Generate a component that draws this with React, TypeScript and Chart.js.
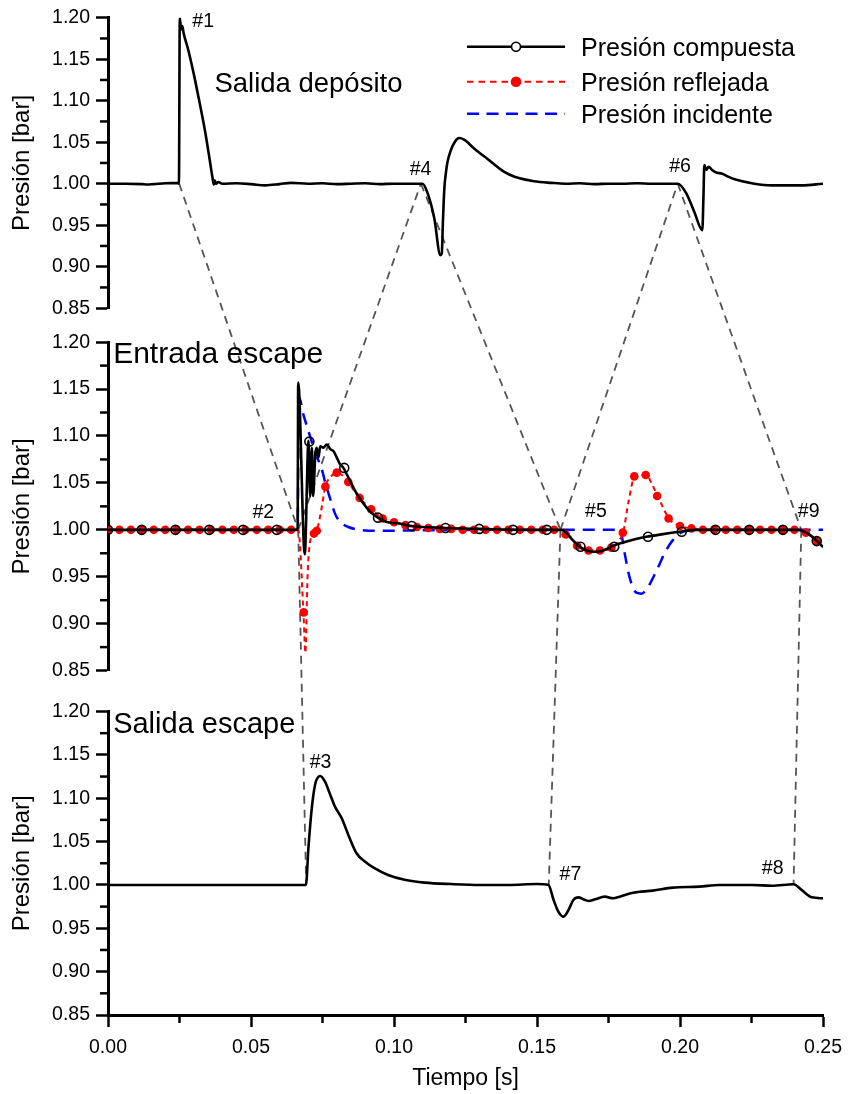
import { useEffect, useRef } from "react";
import { Chart, registerables } from "chart.js";

Chart.register(...registerables);

const FONT = "'Liberation Sans', Arial, Helvetica, sans-serif";

// ---------- axes ----------
const X_TICKS = [0, 0.05, 0.1, 0.15, 0.2, 0.25];
const X_MINOR = [0.025, 0.075, 0.125, 0.175, 0.225];
const Y_TICKS = [0.85, 0.9, 0.95, 1.0, 1.05, 1.1, 1.15, 1.2];
const Y_MINOR = [0.875, 0.925, 0.975, 1.025, 1.075, 1.125, 1.175];

const SERIES_NAMES = ["Presión compuesta", "Presión reflejada", "Presión incidente"];
const PANEL_NAMES = ["Salida depósito", "Entrada escape", "Salida escape"];

// ---------- top panel: Salida depósito ----------
const TOP_T = [0, 0.006, 0.012, 0.0135, 0.016, 0.02, 0.0245, 0.0248, 0.0251, 0.0256, 0.026, 0.0264, 0.028, 0.03, 0.032, 0.034, 0.0355, 0.0365, 0.037, 0.0373, 0.0378, 0.0385, 0.04, 0.045, 0.05, 0.055, 0.06, 0.064, 0.07, 0.075, 0.08, 0.085, 0.09, 0.095, 0.1, 0.105, 0.11, 0.1118, 0.1141, 0.1162, 0.1167, 0.1171, 0.1176, 0.1182, 0.1187, 0.1199, 0.1213, 0.1228, 0.1245, 0.128, 0.1326, 0.1384, 0.1424, 0.1489, 0.155, 0.16, 0.165, 0.17, 0.175, 0.18, 0.185, 0.19, 0.1992, 0.2021, 0.205, 0.2078, 0.2082, 0.2085, 0.2092, 0.21, 0.2112, 0.2125, 0.2148, 0.2168, 0.2194, 0.226, 0.232, 0.238, 0.2426, 0.25];
const TOP_P = [1.0, 1.0, 0.9995, 0.999, 0.9995, 1.0005, 1.001, 1.0, 1.2, 1.186, 1.19, 1.182, 1.162, 1.132, 1.098, 1.062, 1.03, 1.008, 0.999, 1.004, 1.0, 1.002, 1.0, 1.0005, 0.9995, 0.998, 0.9995, 1.001, 1.0, 1.0005, 0.9995, 1.0, 1.0005, 0.9995, 1.0, 1.0, 1.0, 0.988, 0.958, 0.914, 0.916, 0.954, 0.994, 1.0145, 1.026, 1.0406, 1.0506, 1.055, 1.053, 1.0425, 1.03, 1.0145, 1.008, 1.003, 1.001, 1.0, 1.0005, 0.9995, 1.0, 1.0, 1.0005, 1.0, 1.0, 0.989, 0.966, 0.944, 0.985, 1.0225, 1.0165, 1.0205, 1.0165, 1.0136, 1.012, 1.0085, 1.005, 1.0, 0.998, 0.998, 0.998, 1.0];

// ---------- middle panel: Entrada escape ----------
const MID_T = [0, 0.03, 0.06, 0.0663, 0.0665, 0.0688, 0.0701, 0.0707, 0.0713, 0.0717, 0.0725, 0.073, 0.0736, 0.0742, 0.0753, 0.0765, 0.0777, 0.0788, 0.08, 0.0811, 0.0823, 0.084, 0.0864, 0.0886, 0.0921, 0.0944, 0.0979, 0.1014, 0.1062, 0.118, 0.13, 0.145, 0.1587, 0.1616, 0.1645, 0.1674, 0.1703, 0.1732, 0.1766, 0.1801, 0.1842, 0.1882, 0.194, 0.1998, 0.2056, 0.2113, 0.23, 0.2414, 0.2449, 0.2472, 0.25];
const MID_P = [1.0, 1.0, 1.0, 1.0, 1.157, 0.974, 1.095, 1.036, 1.0875, 1.036, 1.081, 1.0875, 1.077, 1.089, 1.0875, 1.091, 1.086, 1.084, 1.077, 1.07, 1.066, 1.056, 1.0415, 1.031, 1.018, 1.013, 1.008, 1.007, 1.004, 1.002, 1.001, 1.0, 1.0, 0.992, 0.983, 0.978, 0.9766, 0.978, 0.983, 0.9865, 0.99, 0.9926, 0.9954, 0.9979, 1.0, 1.0, 1.0, 1.0, 0.9954, 0.99, 0.9815];

const RED_T = [0, 0.06, 0.0665, 0.0684, 0.069, 0.0698, 0.0707, 0.072, 0.073, 0.0745, 0.076, 0.078, 0.08, 0.082, 0.084, 0.086, 0.088, 0.092, 0.096, 0.1, 0.104, 0.108, 0.112, 0.12, 0.13, 0.156, 0.1587, 0.1616, 0.1645, 0.168, 0.172, 0.1764, 0.179, 0.1801, 0.182, 0.1842, 0.1882, 0.19, 0.1922, 0.1963, 0.2003, 0.2044, 0.208, 0.2414, 0.2449, 0.2484, 0.25];
const RED_P = [1.0, 1.0, 1.0, 0.907, 0.869, 0.953, 0.988, 0.996, 0.999, 1.02, 1.046, 1.057, 1.061, 1.058, 1.051, 1.042, 1.034, 1.022, 1.012, 1.008, 1.005, 1.003, 1.002, 1.001, 1.0, 1.0, 1.0, 0.993, 0.982, 0.978, 0.978, 0.981, 0.99, 0.997, 1.03, 1.057, 1.0585, 1.05, 1.036, 1.0114, 1.004, 1.0015, 1.0, 1.0, 0.996, 0.988, 0.984];

const BLUE_T = [0, 0.0663, 0.0667, 0.0684, 0.0701, 0.0725, 0.0748, 0.076, 0.0777, 0.0794, 0.081, 0.084, 0.088, 0.095, 0.11, 0.13, 0.179, 0.1807, 0.1824, 0.1847, 0.1865, 0.1888, 0.1917, 0.1951, 0.1975, 0.2003, 0.2044, 0.25];
const BLUE_P = [1.0, 1.0, 1.142, 1.122, 1.105, 1.082, 1.064, 1.05, 1.033, 1.017, 1.009, 1.003, 1.0, 0.999, 0.9995, 1.0, 1.0, 0.974, 0.949, 0.933, 0.932, 0.939, 0.956, 0.978, 0.989, 0.997, 1.0, 1.0];

// symbol positions
const BLACK_MK_T = [0, 0.0118, 0.0236, 0.0354, 0.0472, 0.059, 0.0704, 0.0826, 0.0944, 0.1062, 0.118, 0.1298, 0.1416, 0.1534, 0.1652, 0.177, 0.1888, 0.2006, 0.2124, 0.2242, 0.236, 0.2478];
const BLACK_MK_P = [1.0, 1.0, 1.0, 1.0, 1.0, 1.0, 1.094, 1.066, 1.013, 1.004, 1.002, 1.001, 1.0, 1.0, 0.982, 0.982, 0.9926, 0.998, 1.0, 1.0, 1.0, 0.988];

const RED_MK_T = [0, 0.004, 0.008, 0.012, 0.016, 0.02, 0.024, 0.028, 0.032, 0.036, 0.04, 0.044, 0.048, 0.052, 0.056, 0.06, 0.064, 0.0684, 0.072, 0.073, 0.076, 0.08, 0.084, 0.088, 0.092, 0.096, 0.1, 0.104, 0.108, 0.112, 0.116, 0.12, 0.124, 0.128, 0.132, 0.136, 0.14, 0.144, 0.148, 0.152, 0.156, 0.16, 0.164, 0.168, 0.172, 0.176, 0.18, 0.184, 0.188, 0.192, 0.196, 0.2, 0.204, 0.208, 0.212, 0.216, 0.22, 0.224, 0.228, 0.232, 0.236, 0.24, 0.244, 0.248];
const RED_MK_P = [1.0, 1.0, 1.0, 1.0, 1.0, 1.0, 1.0, 1.0, 1.0, 1.0, 1.0, 1.0, 1.0, 1.0, 1.0, 1.0, 1.0, 0.912, 0.996, 0.999, 1.046, 1.061, 1.051, 1.034, 1.022, 1.012, 1.008, 1.005, 1.003, 1.002, 1.001, 1.001, 1.0, 1.0, 1.0, 1.0, 1.0, 1.0, 1.0, 1.0, 1.0, 0.995, 0.983, 0.978, 0.978, 0.981, 0.997, 1.057, 1.0585, 1.036, 1.012, 1.004, 1.0015, 1.0, 1.0, 1.0, 1.0, 1.0, 1.0, 1.0, 1.0, 1.0, 0.997, 0.988];

// ---------- bottom panel: Salida escape ----------
const BOT_T = [0, 0.03, 0.06, 0.0692, 0.0701, 0.0713, 0.0725, 0.0742, 0.0759, 0.0777, 0.0794, 0.0817, 0.084, 0.0869, 0.0898, 0.0933, 0.0979, 0.1037, 0.1107, 0.12, 0.13, 0.14, 0.15, 0.154, 0.1558, 0.1575, 0.1593, 0.161, 0.1627, 0.1645, 0.1662, 0.168, 0.1703, 0.1737, 0.1766, 0.1789, 0.1836, 0.1905, 0.1975, 0.2067, 0.2137, 0.2252, 0.2322, 0.2397, 0.2426, 0.2461, 0.25];
const BOT_P = [1.0, 1.0, 1.0, 1.0, 1.044, 1.09, 1.117, 1.1257, 1.119, 1.104, 1.09, 1.077, 1.058, 1.0365, 1.027, 1.019, 1.0115, 1.006, 1.0027, 1.001, 1.0, 1.0, 1.001, 1.0, 0.9827, 0.969, 0.9634, 0.971, 0.9827, 0.9857, 0.9834, 0.9815, 0.9834, 0.9865, 0.9846, 0.9865, 0.991, 0.9934, 0.9969, 0.998, 1.0, 1.0, 0.999, 1.0008, 0.994, 0.9857, 0.9846];

// wave-propagation connectors: [t1, panel1, p1, t2, panel2, p2]
const CONNECTORS: [number, string, number, number, string, number][] = [
  [0.0249, "yTop", 1.0, 0.0665, "yMid", 1.0],
  [0.0665, "yMid", 1.0, 0.1094, "yTop", 1.0],
  [0.1094, "yTop", 1.0, 0.1582, "yMid", 1.0],
  [0.1582, "yMid", 1.0, 0.1992, "yTop", 1.0],
  [0.1992, "yTop", 1.0, 0.2424, "yMid", 1.0],
  [0.0665, "yMid", 1.0, 0.0693, "yBot", 1.0],
  [0.1582, "yMid", 1.0, 0.1541, "yBot", 1.0],
  [0.2424, "yMid", 1.0, 0.2397, "yBot", 1.0],
];

// event markers (anchor in data coordinates, text baseline)
const EVENT_LABELS = ["#1", "#4", "#6", "#2", "#5", "#9", "#3", "#7", "#8"];
const EVENT_AXIS = ["yTop", "yTop", "yTop", "yMid", "yMid", "yMid", "yBot", "yBot", "yBot"];
const EVENT_T = [0.0295, 0.1055, 0.1962, 0.0505, 0.1668, 0.2412, 0.0705, 0.1579, 0.2286];
const EVENT_P = [1.1886, 1.0105, 1.0136, 1.0131, 1.0138, 1.0138, 1.1346, 1.0058, 1.0127];
const PANEL_AXIS = ["yTop", "yMid", "yBot"];
const PANEL_T = [0.0372, 0.0018, 0.0018];
const PANEL_P = [1.11, 1.178, 1.1753];

const zip = (xs: number[], ys: number[]) => xs.map((x, i) => ({ x, y: ys[i] }));

const overlayPlugin = {
  id: "overlay",
  beforeDatasetsDraw(chart: any) {
    const { ctx, scales } = chart;
    ctx.save();
    ctx.strokeStyle = "#555555";
    ctx.lineWidth = 1.8;
    ctx.setLineDash([8, 6]);
    for (const [x1, a1, y1, x2, a2, y2] of CONNECTORS) {
      ctx.beginPath();
      ctx.moveTo(scales.x.getPixelForValue(x1), scales[a1].getPixelForValue(y1));
      ctx.lineTo(scales.x.getPixelForValue(x2), scales[a2].getPixelForValue(y2));
      ctx.stroke();
    }
    ctx.restore();
  },
  afterDraw(chart: any) {
    const { ctx, scales } = chart;
    const sx = scales.x;
    ctx.save();
    ctx.setLineDash([]);
    ctx.strokeStyle = "#000";
    ctx.lineWidth = 2.5;
    for (const id of PANEL_AXIS) {
      const s = scales[id];
      for (const v of Y_MINOR) {
        const py = s.getPixelForValue(v);
        ctx.beginPath();
        ctx.moveTo(s.right - 8, py);
        ctx.lineTo(s.right, py);
        ctx.stroke();
      }
    }
    for (const v of X_MINOR) {
      const px = sx.getPixelForValue(v);
      ctx.beginPath();
      ctx.moveTo(px, sx.top);
      ctx.lineTo(px, sx.top + 8);
      ctx.stroke();
    }

    ctx.fillStyle = "#000";
    ctx.textAlign = "left";
    ctx.textBaseline = "alphabetic";
    ctx.font = `19.5px ${FONT}`;
    EVENT_LABELS.forEach((t, i) => {
      ctx.fillText(t, sx.getPixelForValue(EVENT_T[i]), scales[EVENT_AXIS[i]].getPixelForValue(EVENT_P[i]));
    });
    const panelSizes = [27.5, 30, 29];
    PANEL_NAMES.forEach((t, i) => {
      ctx.font = `${panelSizes[i]}px ${FONT}`;
      ctx.fillText(t, sx.getPixelForValue(PANEL_T[i]), scales[PANEL_AXIS[i]].getPixelForValue(PANEL_P[i]));
    });

    // legend
    const area = chart.chartArea;
    const lx1 = area.right - 356;
    const lx2 = area.right - 258;
    const lxm = (lx1 + lx2) / 2;
    const tx = area.right - 242;
    const rows = [area.top + 29, area.top + 64, area.top + 96];
    ctx.font = `25px ${FONT}`;
    // compuesta
    ctx.strokeStyle = "#000";
    ctx.lineWidth = 2.6;
    ctx.beginPath();
    ctx.moveTo(lx1, rows[0]);
    ctx.lineTo(lx2, rows[0]);
    ctx.stroke();
    ctx.beginPath();
    ctx.arc(lxm, rows[0], 4.5, 0, Math.PI * 2);
    ctx.fillStyle = "#fff";
    ctx.fill();
    ctx.lineWidth = 1.6;
    ctx.stroke();
    // reflejada
    ctx.strokeStyle = "#ff0000";
    ctx.lineWidth = 2;
    ctx.setLineDash([6.5, 5]);
    ctx.beginPath();
    ctx.moveTo(lx1, rows[1]);
    ctx.lineTo(lx2, rows[1]);
    ctx.stroke();
    ctx.setLineDash([]);
    ctx.beginPath();
    ctx.arc(lxm, rows[1], 5.3, 0, Math.PI * 2);
    ctx.fillStyle = "#ff0000";
    ctx.fill();
    // incidente
    ctx.strokeStyle = "#0000ff";
    ctx.lineWidth = 2.5;
    ctx.setLineDash([12, 7.5]);
    ctx.beginPath();
    ctx.moveTo(lx1, rows[2]);
    ctx.lineTo(lx2, rows[2]);
    ctx.stroke();
    ctx.setLineDash([]);
    ctx.fillStyle = "#000";
    SERIES_NAMES.forEach((t, i) => ctx.fillText(t, tx, rows[i] + 9));
    ctx.restore();
  },
};

function yAxis(weight: number, stackWeight: number) {
  return {
    type: "linear",
    position: "left",
    stack: "panels",
    stackWeight,
    weight,
    min: 0.85,
    max: 1.2,
    afterBuildTicks: (s: any) => {
      s.ticks = Y_TICKS.map((v) => ({ value: v }));
    },
    afterFit: (s: any) => {
      s.width = 108;
    },
    ticks: {
      autoSkip: false,
      padding: 6,
      color: "#000",
      font: { size: 19.5, family: FONT },
      callback: (v: any) => Number(v).toFixed(2),
    },
    grid: { drawOnChartArea: false, drawTicks: true, tickLength: 12, tickWidth: 2.5, tickColor: "#000" },
    border: { display: true, width: 3, color: "#000" },
    title: {
      display: true,
      text: "Presión [bar]",
      color: "#000",
      font: { size: 24, family: FONT },
      padding: { top: 8, bottom: 0 },
    },
  };
}

function gapAxis(weight: number, stackWeight: number) {
  return {
    type: "linear",
    position: "left",
    stack: "panels",
    stackWeight,
    weight,
    display: false,
    min: 0,
    max: 1,
  };
}

export default function App() {
  const ref = useRef<HTMLCanvasElement>(null);
  useEffect(() => {
    const canvas = ref.current;
    if (!canvas) return;
    Chart.defaults.font.family = FONT;
    Chart.defaults.color = "#000";
    const lineBase = { pointRadius: 0, pointHoverRadius: 0, fill: false, borderJoinStyle: "round", cubicInterpolationMode: "monotone" };
    const chart = new Chart(canvas, {
      type: "line",
      data: {
        datasets: [
          {
            label: SERIES_NAMES[0] + " (símbolos)",
            yAxisID: "yMid",
            data: zip(BLACK_MK_T, BLACK_MK_P),
            showLine: false,
            pointRadius: 4.5,
            pointBorderWidth: 1.6,
            pointBorderColor: "#000",
            pointBackgroundColor: "rgba(0,0,0,0)",
            borderColor: "#000",
          },
          { ...lineBase, label: SERIES_NAMES[0], yAxisID: "yMid", data: zip(MID_T, MID_P), borderColor: "#000", borderWidth: 2.6 },
          {
            label: SERIES_NAMES[1] + " (símbolos)",
            yAxisID: "yMid",
            data: zip(RED_MK_T, RED_MK_P),
            showLine: false,
            pointRadius: 4.3,
            pointBorderWidth: 0,
            pointBackgroundColor: "#ff0000",
            borderColor: "#ff0000",
          },
          { ...lineBase, label: SERIES_NAMES[1], yAxisID: "yMid", data: zip(RED_T, RED_P), borderColor: "#ff0000", borderWidth: 2, borderDash: [5, 4] },
          { ...lineBase, label: SERIES_NAMES[2], yAxisID: "yMid", data: zip(BLUE_T, BLUE_P), borderColor: "#0000ff", borderWidth: 2.5, borderDash: [12, 8] },
          { ...lineBase, label: PANEL_NAMES[0], yAxisID: "yTop", data: zip(TOP_T, TOP_P), borderColor: "#000", borderWidth: 2.6 },
          { ...lineBase, label: PANEL_NAMES[2], yAxisID: "yBot", data: zip(BOT_T, BOT_P), borderColor: "#000", borderWidth: 2.6 },
        ],
      } as any,
      options: {
        responsive: false,
        maintainAspectRatio: false,
        devicePixelRatio: 1,
        animation: false,
        events: [],
        layout: { padding: { left: 0, right: 23, top: 16, bottom: 0 } },
        plugins: { legend: { display: false }, tooltip: { enabled: false } },
        scales: {
          x: {
            type: "linear",
            position: "bottom",
            min: 0,
            max: 0.25,
            afterBuildTicks: (s: any) => {
              s.ticks = X_TICKS.map((v) => ({ value: v }));
            },
            afterFit: (s: any) => {
              s.height = 79;
            },
            ticks: {
              autoSkip: false,
              maxRotation: 0,
              padding: 9,
              color: "#000",
              font: { size: 19.5, family: FONT },
              callback: (v: any) => Number(v).toFixed(2),
            },
            grid: { drawOnChartArea: false, drawTicks: true, tickLength: 12, tickWidth: 2.5, tickColor: "#000" },
            border: { display: true, width: 3, color: "#000" },
            title: {
              display: true,
              text: "Tiempo [s]",
              color: "#000",
              font: { size: 23, family: FONT },
              padding: { top: 0, bottom: 2 },
            },
          },
          yTop: yAxis(5, 291),
          gap1: gapAxis(4, 34),
          yMid: yAxis(3, 329),
          gap2: gapAxis(2, 41),
          yBot: yAxis(1, 304),
        } as any,
      },
      plugins: [overlayPlugin],
    });
    return () => chart.destroy();
  }, []);
  return (
    <div style={{ position: "absolute", left: 0, top: 0, width: 851, height: 1094, background: "#fff" }}>
      <canvas ref={ref} width={851} height={1094} style={{ display: "block", width: 851, height: 1094 }} />
    </div>
  );
}
